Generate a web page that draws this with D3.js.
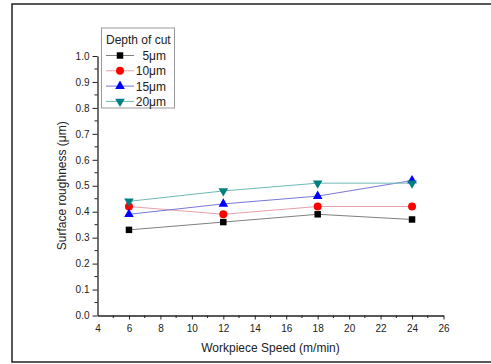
<!DOCTYPE html>
<html>
<head>
<meta charset="utf-8">
<script src="https://cdn.jsdelivr.net/npm/d3@7"></script>
<style>
  body { margin: 0; background: #fff; }
  svg { display: block; font-family: "Liberation Sans", Arial, sans-serif; }
</style>
</head>
<body>
<svg id="chart" width="491" height="364"></svg>
<script>
// workpiece speed (m/min)
speeds = [6, 12, 18, 24]
// surface roughness (um) per depth of cut
depth5 = [0.33, 0.36, 0.39, 0.37]
depth10 = [0.42, 0.39, 0.42, 0.42]
depth15 = [0.39, 0.43, 0.46, 0.52]
depth20 = [0.44, 0.48, 0.51, 0.51]
seriesNames = ["5\u03bcm", "10\u03bcm", "15\u03bcm", "20\u03bcm"]
xTicks = [4, 6, 8, 10, 12, 14, 16, 18, 20, 22, 24, 26]
yTicks = [0, 0.1, 0.2, 0.3, 0.4, 0.5, 0.6, 0.7, 0.8, 0.9, 1.0]

const svg = d3.select("#chart")

// outer frame
svg.append("rect").attr("x", 12).attr("y", 4).attr("width", 490).attr("height", 358)
  .attr("fill", "none").attr("stroke", "#222").attr("stroke-width", 1.5)

const x = d3.scaleLinear().domain([4, 26]).range([97.5, 443.5])
const y = d3.scaleLinear().domain([0, 1]).range([315.5, 56])

const series = [
  {name: seriesNames[0], vals: depth5, line: "#808080", fill: "#000000", shape: d3.symbolSquare, size: 42},
  {name: seriesNames[1], vals: depth10, line: "#e8a0a8", fill: "#ff0000", shape: d3.symbolCircle, size: 50},
  {name: seriesNames[2], vals: depth15, line: "#7a78d8", fill: "#0000ff", shape: d3.symbolTriangle, size: 40},
  {name: seriesNames[3], vals: depth20, line: "#6fb8b4", fill: "#008080", shape: d3.symbolTriangle, size: 40, flip: true}
]

// axes
const xAxis = d3.axisBottom(x).tickValues(xTicks).tickFormat(d3.format("d")).tickSize(4).tickSizeOuter(0)
const gx = svg.append("g").attr("transform", "translate(0," + y(0) + ")").call(xAxis)
gx.selectAll(".tick").filter(d => d === 4).select("line").remove()
gx.selectAll(".tick text").attr("dy", "0.95em")
const xMinor = d3.range(5, 26, 2)
gx.selectAll(".minor").data(xMinor).join("line").attr("class", "minor")
  .attr("x1", d => x(d)).attr("x2", d => x(d)).attr("y1", 0).attr("y2", 2.5)
  .attr("stroke", "#222")

const yAxis = d3.axisLeft(y).tickValues(yTicks).tickFormat(d3.format(".1f")).tickSize(5).tickSizeOuter(0)
const gy = svg.append("g").attr("transform", "translate(" + x(4) + ",0)").call(yAxis)
const yMinor = d3.range(0.05, 1, 0.1)
gy.selectAll(".minor").data(yMinor).join("line").attr("class", "minor")
  .attr("x1", 0).attr("x2", -3).attr("y1", d => y(d)).attr("y2", d => y(d))
  .attr("stroke", "#222")

svg.selectAll(".domain").attr("stroke", "#222").attr("stroke-width", 1.3)
svg.selectAll(".tick line").attr("stroke", "#222")
svg.selectAll(".tick text").attr("font-size", 10).attr("fill", "#222")
  .attr("font-family", "Liberation Sans, Arial, sans-serif")

// axis titles
svg.append("text").attr("x", (x(4) + x(26)) / 2).attr("y", 352).attr("text-anchor", "middle")
  .attr("font-size", 12).attr("fill", "#222").text("Workpiece Speed (m/min)")
svg.append("text").attr("transform", "translate(66," + y(0.5) + ") rotate(-90)")
  .attr("text-anchor", "middle").attr("font-size", 12).attr("fill", "#222")
  .text("Surface roughness (\u03bcm)")

// lines + markers
const line = d3.line().x((d, i) => x(speeds[i])).y(d => y(d))
series.forEach(s => {
  svg.append("path").datum(s.vals).attr("d", line)
    .attr("fill", "none").attr("stroke", s.line).attr("stroke-width", 1)
})
series.forEach(s => {
  svg.append("g").selectAll("path").data(s.vals).join("path")
    .attr("d", d3.symbol().type(s.shape).size(s.size))
    .attr("transform", (d, i) => "translate(" + x(speeds[i]) + "," + y(d) + ")" + (s.flip ? " rotate(180)" : ""))
    .attr("fill", s.fill)
})

// legend
const lg = svg.append("g")
lg.append("rect").attr("x", 101.5).attr("y", 28).attr("width", 73).attr("height", 80)
  .attr("fill", "#fff").attr("stroke", "#999").attr("stroke-width", 1)
lg.append("text").attr("x", 106).attr("y", 44).attr("font-size", 12).attr("fill", "#222").text("Depth of cut")
series.forEach((s, i) => {
  const yy = 55.5 + i * 15.3
  lg.append("line").attr("x1", 106).attr("x2", 134).attr("y1", yy).attr("y2", yy)
    .attr("stroke", s.line).attr("stroke-width", 1)
  lg.append("path").attr("d", d3.symbol().type(s.shape).size(s.size))
    .attr("transform", "translate(120," + yy + ")" + (s.flip ? " rotate(180)" : ""))
    .attr("fill", s.fill)
  lg.append("text").attr("x", 166).attr("y", yy + 4.5).attr("text-anchor", "end")
    .attr("font-size", 12).attr("fill", "#222").text(s.name)
})
</script>
</body>
</html>
